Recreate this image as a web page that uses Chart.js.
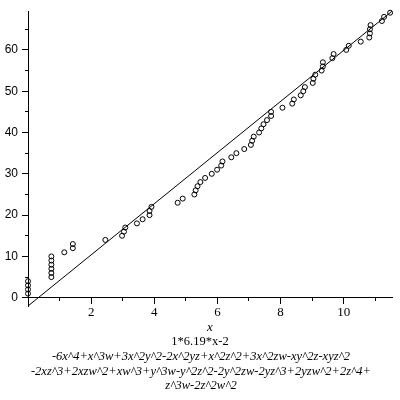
<!DOCTYPE html>
<html>
<head>
<meta charset="utf-8">
<script src="https://cdn.jsdelivr.net/npm/chart.js@4"></script>
<style>
  html, body { margin: 0; padding: 0; background: #fff; }
</style>
</head>
<body>
<canvas id="chart" width="400" height="400"></canvas>
<script>
// Messpunkte (x, y)
const pointX = [
  0, 0, 0, 0,
  0.74, 0.74, 0.74, 0.74, 0.74, 0.74,
  1.15, 1.42, 1.42, 2.45, 2.98, 3.04, 3.08, 3.45, 3.63, 3.85,
  3.85, 3.91, 4.74, 4.90, 5.27, 5.31, 5.37, 5.46, 5.61, 5.82,
  5.99, 6.12, 6.16, 6.44, 6.60, 6.85, 7.06, 7.10, 7.15, 7.32,
  7.39, 7.46, 7.57, 7.70, 7.70, 8.06, 8.37, 8.42, 8.64, 8.72,
  8.77, 9.02, 9.04, 9.10, 9.30, 9.34, 9.34, 9.64, 9.68, 10.08,
  10.16, 10.54, 10.81, 10.83, 10.83, 10.85, 11.21, 11.28, 11.47
];
const pointY = [
  1, 2, 3, 4,
  5, 6, 7, 8, 9, 10,
  11, 12, 13, 14, 15, 16, 17, 18, 19, 20,
  21, 22, 23, 24, 25, 26, 27, 28, 29, 30,
  31, 32, 33, 34, 35, 36, 37, 38, 39, 40,
  41, 42, 43, 44, 45, 46, 47, 48, 49, 50,
  51, 52, 53, 54, 55, 56, 57, 58, 59, 60,
  61, 62, 63, 64, 65, 66, 67, 68, 69
];

// Gerade 1*6.19*x-2 (Endpunkte)
const lineX = [0, 11.53];
const lineY = [-2, 69.37];

const xTicks = [1, 2, 3, 4, 5, 6, 7, 8, 9, 10, 11];
const yTicks = [0, 5, 10, 15, 20, 25, 30, 35, 40, 45, 50, 55, 60, 65];

const xTitle = "x";
const fitLabel = "1*6.19*x-2";
const captionLines = [
  "-6x^4+x^3w+3x^2y^2-2x^2yz+x^2z^2+3x^2zw-xy^2z-xyz^2",
  "-2xz^3+2xzw^2+xw^3+y^3w-y^2z^2-2y^2zw-2yz^3+2yzw^2+2z^4+",
  "z^3w-2z^2w^2"
];

const scatterData = pointX.map((x, i) => ({ x: x, y: pointY[i] }));
const lineData = lineX.map((x, i) => ({ x: x, y: lineY[i] }));

// Beschriftung unter dem Diagramm
const captionPlugin = {
  id: "caption",
  afterDraw(chart) {
    const ctx = chart.ctx;
    const area = chart.chartArea;
    ctx.save();
    ctx.fillStyle = "#000";
    ctx.textAlign = "center";
    ctx.textBaseline = "middle";
    ctx.font = "italic 13px 'Liberation Serif'";
    ctx.fillText(xTitle, (area.left + area.right) / 2, 328);
    ctx.font = "12.5px 'Liberation Serif'";
    ctx.fillText(fitLabel, 200, 342);
    ctx.font = "italic 12.5px 'Liberation Serif'";
    captionLines.forEach((t, i) => {
      ctx.fillText(t, 201, 357 + i * 14.5);
    });
    ctx.restore();
  }
};

// kurze Striche fuer Zwischenwerte
function minorDash(step, outer) {
  return (c) => {
    if (c.tick && c.tick.value % step !== 0) {
      return outer ? [0, 3, 3, 50] : [3, 50];
    }
    return [];
  };
}

new Chart(document.getElementById("chart"), {
  type: "scatter",
  data: {
    datasets: [
      {
        label: "Gerade",
        data: lineData,
        showLine: true,
        borderColor: "#000",
        borderWidth: 1,
        pointRadius: 0,
        clip: false,
        order: 2
      },
      {
        label: "Punkte",
        data: scatterData,
        pointStyle: "circle",
        pointRadius: 2.5,
        borderColor: "#000",
        borderWidth: 1,
        backgroundColor: "rgba(0,0,0,0)",
        clip: false,
        order: 1
      }
    ]
  },
  options: {
    responsive: false,
    animation: false,
    devicePixelRatio: 1,
    layout: {
      padding: { top: 10, right: 8, bottom: 94, left: 0 }
    },
    plugins: {
      legend: { display: false },
      tooltip: { enabled: false }
    },
    scales: {
      x: {
        type: "linear",
        position: { y: 0 },
        min: 0,
        max: 11.53,
        afterBuildTicks: (s) => {
          s.ticks = xTicks.map(v => ({ value: v }));
        },
        afterFit: (s) => {
          s.height = 0;
        },
        border: { color: "#000", width: 1 },
        grid: {
          drawOnChartArea: false,
          tickLength: 6,
          tickColor: "#000",
          tickBorderDash: minorDash(2, false)
        },
        ticks: {
          color: "#000",
          padding: 1,
          maxRotation: 0,
          autoSkip: false,
          font: { family: "'Liberation Serif'", size: 13 },
          callback: (v) => (v % 2 === 0 ? String(v) : "")
        }
      },
      y: {
        type: "linear",
        position: "left",
        min: -2,
        max: 69.37,
        afterBuildTicks: (s) => {
          s.ticks = yTicks.map(v => ({ value: v }));
        },
        afterFit: (s) => {
          s.width = 28;
        },
        border: { color: "#000", width: 1 },
        grid: {
          drawOnChartArea: false,
          tickLength: 6,
          tickColor: "#000",
          tickBorderDash: minorDash(10, true)
        },
        ticks: {
          color: "#000",
          padding: 4,
          autoSkip: false,
          font: { family: "'Liberation Sans'", size: 12 },
          callback: (v) => (v % 10 === 0 ? String(v) : "")
        }
      }
    }
  },
  plugins: [captionPlugin]
});
</script>
</body>
</html>
